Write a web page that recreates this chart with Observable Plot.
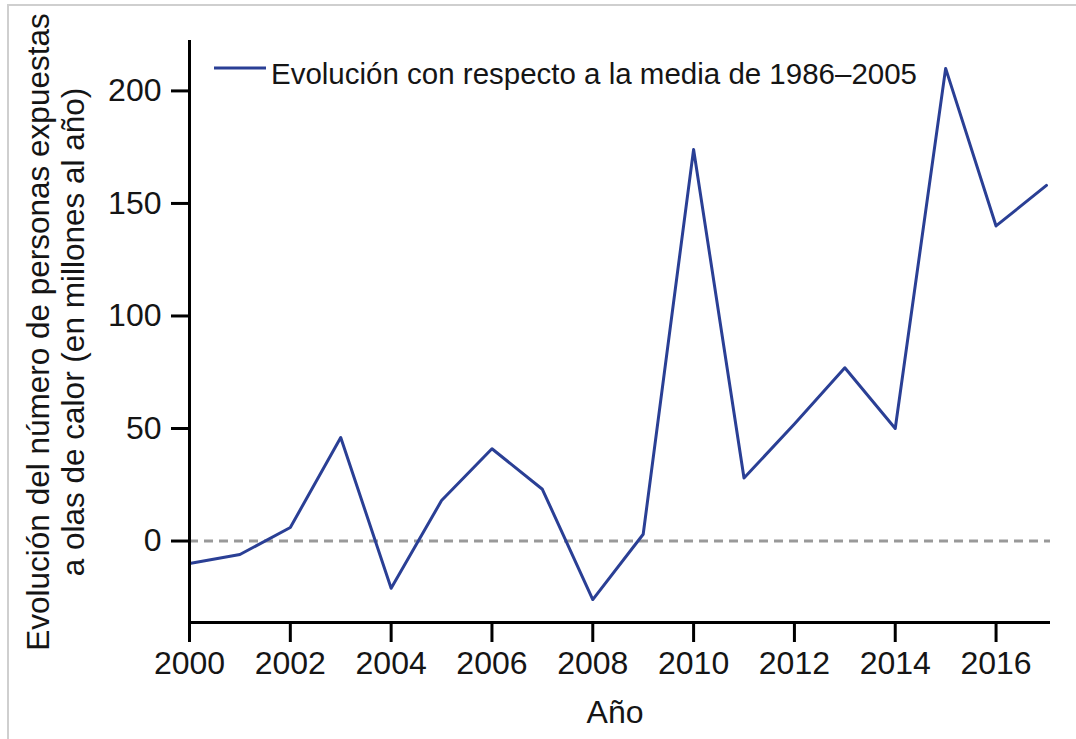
<!DOCTYPE html>
<html>
<head>
<meta charset="utf-8">
<script src="https://cdn.jsdelivr.net/npm/d3@7"></script>
<script src="https://cdn.jsdelivr.net/npm/@observablehq/plot@0.6"></script>
<style>
  html, body { margin: 0; padding: 0; background: #fff; overflow: hidden; }
  #wrap { position: relative; width: 1076px; height: 739px; }
  #frame { position: absolute; left: 7px; top: 4px; width: 1100px; height: 800px; border: 2px solid #cfcfcf; box-sizing: border-box; pointer-events: none; }
  #chart { position: absolute; left: 0; top: 0; }
</style>
</head>
<body>
<div id="wrap"><div id="frame"></div><div id="chart"></div></div>
<script>
const years = [2000,2001,2002,2003,2004,2005,2006,2007,2008,2009,2010,2011,2012,2013,2014,2015,2016,2017];
const values = [-10,-6,6,46,-21,18,41,23,-26,3,174,28,52,77,50,210,140,158];
const xTicks = [2000,2002,2004,2006,2008,2010,2012,2014,2016];
const yTicks = [0,50,100,150,200];
const seriesName = "Evolución con respecto a la media de 1986–2005";
const xLabel = "Año";
const yLabelLines = ["Evolución del número de personas expuestas", "a olas de calor (en millones al año)"];

const data = years.map((y, i) => ({year: y, value: values[i]}));
const xDomain = [2000, 2017.08];
const yDomain = [-36.2, 222.4];
const lineColor = "#2a3f95";
const font = "'Liberation Sans', Arial, Helvetica, sans-serif";
const textColor = "#151515";

const plot = Plot.plot({
  width: 1076,
  height: 739,
  marginLeft: 189,
  marginRight: 26,
  marginTop: 40,
  marginBottom: 117,
  style: {fontFamily: font, color: textColor, background: "transparent"},
  x: {domain: xDomain, axis: null},
  y: {domain: yDomain, axis: null},
  marks: [
    Plot.ruleY([0], {x1: xDomain[0], x2: xDomain[1], stroke: "#999", strokeWidth: 3, strokeDasharray: "9,6"}),
    Plot.line(data, {x: "year", y: "value", stroke: lineColor, strokeWidth: 3}),
    Plot.ruleX([xDomain[0]], {y1: yDomain[0], y2: yDomain[1], stroke: "#000", strokeWidth: 3}),
    Plot.ruleY([yDomain[0]], {x1: xDomain[0], x2: xDomain[1], stroke: "#000", strokeWidth: 3}),
    Plot.axisX({ticks: xTicks, tickFormat: d => String(d), tickSize: 20, tickPadding: 9, strokeWidth: 3, fontSize: 32, label: null, anchor: "bottom", stroke: "#000"}),
    Plot.axisY({ticks: yTicks, tickFormat: d => String(d), tickSize: 18, tickPadding: 10, strokeWidth: 3, fontSize: 32, label: null, anchor: "left", stroke: "#000"})
  ]
});
document.getElementById("chart").appendChild(plot);

const svg = d3.select(plot);
// Legend
svg.append("line").attr("x1", 214).attr("x2", 266).attr("y1", 68).attr("y2", 68)
  .attr("stroke", lineColor).attr("stroke-width", 3);
svg.append("text").attr("x", 271).attr("y", 84).attr("font-size", 29).attr("fill", textColor)
  .attr("text-anchor", "start")
  .attr("font-family", font).attr("textLength", 646).attr("lengthAdjust", "spacingAndGlyphs").text(seriesName);
// X label
svg.append("text").attr("x", 615).attr("y", 723).attr("text-anchor", "middle").attr("font-size", 32)
  .attr("fill", textColor).attr("font-family", font).text(xLabel);
// Y label (two lines)
yLabelLines.forEach((t, i) => {
  svg.append("text").attr("transform", `translate(${49 + i * 35},332) rotate(-90)`)
    .attr("text-anchor", "middle").attr("font-size", 31.5).attr("fill", textColor)
    .attr("font-family", font).text(t);
});
</script>
</body>
</html>
